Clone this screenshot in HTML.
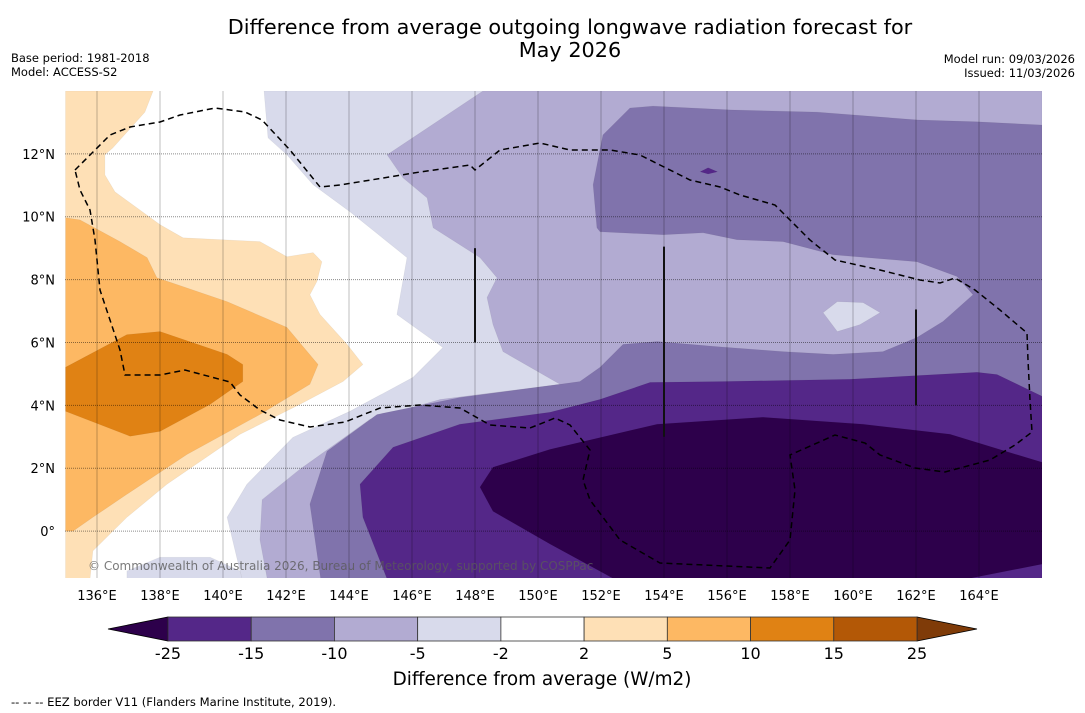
<!DOCTYPE html>
<html><head><meta charset="utf-8"><style>
body{margin:0;background:#fff;width:1085px;height:713px;overflow:hidden;font-family:"DejaVu Sans","Liberation Sans",sans-serif}
svg{display:block}
</style></head><body>
<svg id="chart" width="1085" height="713" xmlns="http://www.w3.org/2000/svg">
<text x="570" y="34" font-size="20.8" text-anchor="middle">Difference from average outgoing longwave radiation forecast for</text>
<text x="570" y="57" font-size="20.8" text-anchor="middle">May 2026</text>
<text x="11" y="62" font-size="11.5">Base period: 1981-2018</text>
<text x="11" y="76" font-size="11.5">Model: ACCESS-S2</text>
<text x="1075" y="63" font-size="11.5" text-anchor="end">Model run: 09/03/2026</text>
<text x="1075" y="77" font-size="11.5" text-anchor="end">Issued: 11/03/2026</text>
<defs><clipPath id="mapclip"><rect x="65" y="91" width="977" height="487"/></clipPath></defs>
<g id="map" clip-path="url(#mapclip)"></g>
<g id="axes"></g>
<g id="cbar"></g>
<text x="542" y="685" font-size="18.4" text-anchor="middle">Difference from average (W/m2)</text>
<text x="11" y="706" font-size="11.6">--  --  -- EEZ border V11 (Flanders Marine Institute, 2019).</text>
</svg>
<script>
const lonMin=135, lonMax=166, latMin=-1.5, latMax=14;
const lonTicks=[136,138,140,142,144,146,148,150,152,154,156,158,160,162,164];
const latTicks=[0,2,4,6,8,10,12];
const levelLabels=["-25","-15","-10","-5","-2","2","5","10","15","25"];
const levelColors=["#542788","#8073ac","#b2abd2","#d8daeb","#ffffff","#fee0b6","#fdb863","#e08214","#b35806"];
const underColor="#2d004b", overColor="#7f3b08";
const regLight=[[141.3,14],[141.43,12.51],[142.03,11.97],[142.86,11.02],[144.03,10.16],[145.84,8.7],[145.52,6.89],[146.98,5.84],[146.03,4.89],[144.03,3.81],[142.22,2.98],[140.76,1.49],[140.13,0.44],[140.54,-1.27],[140.6,-1.5],[166,-1.5],[166,14]];
const regLightBlob=[[136.95,-1.5],[136.95,-1.27],[138,-0.83],[139.59,-0.83],[140.54,-1.27],[140.6,-1.5]];
const regMid=[[148.25,14],[145.21,11.97],[145.71,11.24],[146.48,10.6],[146.67,9.65],[148.16,8.7],[148.7,8.06],[148.38,7.43],[148.57,6.57],[148.89,5.71],[150.7,4.67],[146.9,4.19],[144.67,3.56],[142.44,1.97],[141.24,1.0],[141.17,-0.27],[141.4,-1.5],[166,-1.5],[166,14]];
const regDeep=[[152.92,13.46],[153.65,13.52],[156.1,13.4],[158.86,13.33],[162.03,13.08],[163.94,13.02],[166,12.92],[166,-1.5],[143.1,-1.5],[142.76,0.86],[143.3,2.54],[144.89,3.71],[147.52,4.25],[150.7,4.67],[151.33,4.76],[151.97,5.21],[152.7,5.94],[153.78,6.03],[155.68,5.87],[157.78,5.71],[159.37,5.62],[160.95,5.71],[162.03,6.16],[162.86,6.67],[163.81,7.52],[163.3,8.1],[162.03,8.57],[159.37,8.79],[157.78,9.21],[156.32,9.27],[155.24,9.49],[153.97,9.43],[151.97,9.52],[151.87,9.65],[151.75,11.02],[152.06,12.6]];
const regLobe=[[159.05,6.95],[159.5,7.3],[160.32,7.27],[160.86,6.95],[160.22,6.57],[159.5,6.35]];
const regStrong=[[145.2,-1.5],[144.44,0.44],[144.35,1.49],[145.4,2.67],[147.52,3.4],[150.38,3.78],[151.97,4.19],[153.56,4.73],[155.87,4.76],[159.9,4.83],[163.94,5.05],[164.57,4.98],[166,4.29],[166,-1.5]];
const regExtreme=[[150.38,2.6],[153.78,3.4],[157.14,3.62],[160.32,3.4],[163.08,3.08],[166,2.19],[166,-1.05],[163.71,-1.5],[152.38,-1.5],[150.38,-0.41],[148.57,0.63],[148.16,1.4],[148.57,2.03]];
const regDiamond=[[155.15,11.43],[155.4,11.56],[155.7,11.43],[155.4,11.36]];
const regO1=[[135,14],[137.78,14],[137.52,13.33],[136.5,12.19],[136.25,11.97],[136.25,11.33],[136.57,10.79],[138,9.75],[138.73,9.33],[141.17,9.21],[142.03,8.73],[142.86,8.86],[143.14,8.57],[142.98,7.94],[142.76,7.52],[143.08,6.89],[143.94,5.94],[144.44,5.3],[143.81,4.76],[142.44,4.03],[140.54,3.08],[138.22,1.49],[136.95,0.44],[135.87,-0.63],[135.78,-1.5],[135,-1.5]];
const regO2=[[135,9.97],[135.46,9.9],[136.73,9.21],[137.59,8.7],[137.9,8.06],[140.13,7.3],[142.03,6.48],[143.02,5.3],[142.76,4.67],[141.17,3.71],[138.86,2.44],[136.95,1.17],[135.87,0.44],[135.24,0],[135,0]];
const regO3=[[135,5.21],[136.95,6.25],[138,6.35],[140.13,5.62],[140.63,5.3],[140.63,4.76],[139.59,4.03],[138,3.17],[137.05,3.02],[135,3.81]];
const boundaryLines=[[148,9],[148,6]];
const bLine2=[[154,9.05],[154,3]];
const bLine3=[[162,7.05],[162,4]];

const X0=65.5,X1=1042,Y0=91,Y1=578.25;
const xs=lon=>X0+(lon-lonMin)/(lonMax-lonMin)*(X1-X0);
const ys=lat=>Y0+(latMax-lat)/(latMax-latMin)*(Y1-Y0);
const NS="http://www.w3.org/2000/svg";
function mk(tag,parent){const e=document.createElementNS(NS,tag);parent.appendChild(e);return e;}
const map=document.getElementById('map');
const bg=mk('rect',map);bg.setAttribute('x',65);bg.setAttribute('y',91);bg.setAttribute('width',977);bg.setAttribute('height',487);bg.setAttribute('fill','#fff');


const regions=[[levelColors[3],regLight,'region-minus2'],[levelColors[3],regLightBlob,'region-minus2-blob'],[levelColors[2],regMid,'region-minus5'],[levelColors[1],regDeep,'region-minus10'],[levelColors[3],regLobe,'region-minus2-lobe'],[levelColors[0],regStrong,'region-minus15'],[underColor,regExtreme,'region-minus25'],[levelColors[0],regDiamond,'region-minus15-spot'],[levelColors[5],regO1,'region-plus2'],[levelColors[6],regO2,'region-plus5'],[levelColors[7],regO3,'region-plus10']];
regions.forEach(r=>{
  const p=mk('polygon',map);
  p.setAttribute('points',r[1].map(q=>xs(q[0]).toFixed(1)+','+ys(q[1]).toFixed(1)).join(' '));
  p.setAttribute('fill',r[0]);
  p.setAttribute('stroke','rgba(0,0,0,0.06)');
  p.setAttribute('stroke-width','0.6');
  
  
});
lonTicks.forEach(l=>{const g=mk('line',map);g.setAttribute('x1',xs(l));g.setAttribute('x2',xs(l));g.setAttribute('y1',91);g.setAttribute('y2',578);g.setAttribute('stroke','rgba(0,0,0,0.25)');g.setAttribute('stroke-width','1');

});
latTicks.forEach(l=>{const g=mk('line',map);g.setAttribute('x1',65);g.setAttribute('x2',1042);g.setAttribute('y1',ys(l));g.setAttribute('y2',ys(l));g.setAttribute('stroke','rgba(0,0,0,0.45)');g.setAttribute('stroke-width','1');g.setAttribute('stroke-dasharray','1,1');

});
[boundaryLines,bLine2,bLine3].forEach(b=>{const g=mk('line',map);g.setAttribute('x1',xs(b[0][0]));g.setAttribute('x2',xs(b[1][0]));g.setAttribute('y1',ys(b[0][1]));g.setAttribute('y2',ys(b[1][1]));g.setAttribute('stroke','#111');g.setAttribute('stroke-width','2');

});
const eez=mk('path',map);
eez.setAttribute('d','M75,170 L90,155 110,135 130,127 160,122 180,115 215,108 245,112 262,120 290,150 320,187 340,185 420,172 470,165 475,170 500,150 540,143 570,150 610,150 640,155 660,165 690,180 720,187 740,195 775,205 790,220 810,240 835,260 880,270 920,280 940,283 955,278 975,290 1000,310 1027,333 1028,360 1030,400 1032,432 1015,445 990,460 945,472 915,468 880,455 865,443 835,435 790,455 795,490 790,540 770,568 660,563 620,540 590,500 583,480 590,450 570,425 555,418 530,428 490,425 460,408 420,405 380,408 345,422 310,427 280,420 260,410 240,395 230,382 185,370 160,375 125,375 120,350 110,320 100,290 95,240 90,210 80,190 Z');
eez.setAttribute('fill','none');eez.setAttribute('stroke','#000');eez.setAttribute('stroke-width','1.5');eez.setAttribute('stroke-dasharray','6,4');


const cp=mk('text',map);cp.textContent='© Commonwealth of Australia 2026, Bureau of Meteorology, supported by COSPPac';
cp.setAttribute('x',88);cp.setAttribute('y',570);cp.setAttribute('font-size','12');cp.setAttribute('fill','rgba(90,90,90,0.8)');


const ax=document.getElementById('axes');
lonTicks.forEach(l=>{const t=mk('text',ax);t.textContent=l+'°E';t.setAttribute('x',xs(l));t.setAttribute('y',600);t.setAttribute('font-size','13');t.setAttribute('text-anchor','middle');

});
latTicks.forEach(l=>{const t=mk('text',ax);t.textContent=l===0?'0°':l+'°N';t.setAttribute('x',55);t.setAttribute('y',ys(l)+5);t.setAttribute('font-size','13');t.setAttribute('text-anchor','end');

});
const cb=document.getElementById('cbar');
const cx0=168,cx1=917,cy0=617,cy1=641,seg=(cx1-cx0)/levelColors.length;
const lt=mk('polygon',cb);lt.setAttribute('points',`${cx0},${cy0} ${cx0},${cy1} 108,629`);lt.setAttribute('fill',underColor);lt.setAttribute('stroke','#000');lt.setAttribute('stroke-width','0.8');


const rt=mk('polygon',cb);rt.setAttribute('points',`${cx1},${cy0} ${cx1},${cy1} 977,629`);rt.setAttribute('fill',overColor);rt.setAttribute('stroke','#000');rt.setAttribute('stroke-width','0.8');


levelColors.forEach((c,i)=>{const r=mk('rect',cb);r.setAttribute('x',cx0+i*seg);r.setAttribute('y',cy0);r.setAttribute('width',seg);r.setAttribute('height',cy1-cy0);r.setAttribute('fill',c);r.setAttribute('stroke','#333');r.setAttribute('stroke-width','0.8');

});
levelLabels.forEach((s,i)=>{const t=mk('text',cb);t.textContent=s;t.setAttribute('x',cx0+i*seg);t.setAttribute('y',659);t.setAttribute('font-size','16');t.setAttribute('text-anchor','middle');

});
</script>
</body></html>
